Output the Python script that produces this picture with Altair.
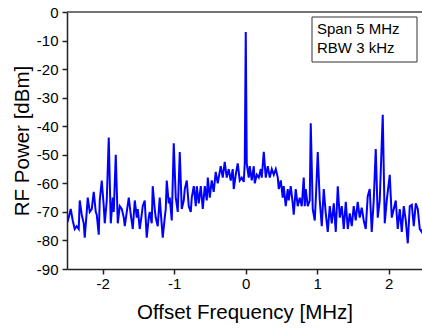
import altair as alt
import pandas as pd

# Offset frequency (MHz) and RF power (dBm)
freq_mhz = [
    -2.500, -2.476, -2.448, -2.420, -2.392, -2.364, -2.336, -2.322, -2.294, -2.266,
    -2.252, -2.224, -2.210, -2.182, -2.154, -2.126, -2.098, -2.084, -2.056, -2.042,
    -2.014, -1.986, -1.972, -1.944, -1.916, -1.888, -1.860, -1.846, -1.818, -1.790,
    -1.762, -1.734, -1.706, -1.692, -1.664, -1.636, -1.608, -1.580, -1.552, -1.524,
    -1.510, -1.483, -1.455, -1.441, -1.413, -1.385, -1.357, -1.343, -1.315, -1.301,
    -1.273, -1.259, -1.231, -1.203, -1.189, -1.161, -1.133, -1.119, -1.105, -1.077,
    -1.063, -1.035, -1.007, -0.979, -0.951, -0.923, -0.895, -0.867, -0.853, -0.825,
    -0.797, -0.769, -0.755, -0.727, -0.699, -0.685, -0.657, -0.629, -0.601, -0.573,
    -0.545, -0.531, -0.503, -0.476, -0.448, -0.420, -0.392, -0.364, -0.350, -0.322,
    -0.294, -0.266, -0.238, -0.210, -0.182, -0.168, -0.140, -0.112, -0.084, -0.056,
    -0.028, -0.014, 0.000, 0.014, 0.042, 0.056, 0.084, 0.112, 0.126, 0.154,
    0.182, 0.210, 0.224, 0.252, 0.280, 0.308, 0.336, 0.364, 0.392, 0.420,
    0.448, 0.462, 0.490, 0.517, 0.531, 0.559, 0.587, 0.601, 0.629, 0.657,
    0.671, 0.699, 0.727, 0.755, 0.783, 0.811, 0.825, 0.839, 0.867, 0.895,
    0.909, 0.937, 0.965, 0.979, 1.007, 1.035, 1.063, 1.091, 1.119, 1.147,
    1.175, 1.203, 1.231, 1.259, 1.287, 1.315, 1.343, 1.371, 1.399, 1.427,
    1.455, 1.483, 1.510, 1.538, 1.566, 1.594, 1.622, 1.650, 1.678, 1.706,
    1.734, 1.762, 1.790, 1.818, 1.846, 1.874, 1.916, 1.944, 1.972, 2.014,
    2.042, 2.070, 2.098, 2.126, 2.154, 2.182, 2.210, 2.238, 2.266, 2.294,
    2.322, 2.350, 2.378, 2.406, 2.434, 2.462, 2.490,
]
power_dbm = [
    -74, -72, -69, -73, -76, -75, -76, -66, -71, -74,
    -79, -70, -65, -70, -69, -63, -70, -71, -78, -66,
    -59, -68, -74, -66, -44, -74, -65, -70, -50, -74,
    -68, -69, -72, -75, -70, -65, -71, -76, -66, -72,
    -69, -76, -71, -68, -66, -79, -72, -70, -74, -61,
    -69, -72, -75, -65, -70, -79, -72, -69, -59, -67,
    -65, -73, -46, -65, -70, -49, -69, -66, -62, -59,
    -68, -70, -65, -61, -68, -61, -67, -61, -69, -61,
    -66, -58, -65, -59, -63, -56, -60, -56, -54, -58,
    -52.5, -58, -55, -59, -55, -62, -57, -53, -59, -58,
    -59.5, -53, -7, -53, -58, -54, -59, -54, -60, -57,
    -58, -55, -58, -49, -58, -54, -58, -55, -57, -55,
    -58, -62, -59, -65, -61, -68, -62, -66, -61, -67,
    -71, -62, -68, -65, -68, -58, -68, -62, -68, -66,
    -39, -69, -73, -66, -49, -66, -75, -62, -70.5, -77,
    -68, -74, -67, -77, -61, -72, -68, -76, -66.5, -76,
    -70.5, -75, -68, -73, -66.5, -72, -68.5, -73, -76, -64.5,
    -62, -77, -66, -48, -72, -66, -36, -74, -66, -57,
    -72, -69, -66, -76, -69, -77, -68, -73, -81, -68,
    -67.5, -75, -67, -69, -76, -77, -75,
]

x_ticks = [-2, -1, 0, 1, 2]
y_ticks = [-90, -80, -70, -60, -50, -40, -30, -20, -10, 0]
x_title = "Offset Frequency [MHz]"
y_title = "RF Power [dBm]"
legend_lines = ["Span 5 MHz", "RBW 3 kHz"]

FONT = "Liberation Sans"
W, H = 355, 257

df = pd.DataFrame({"f": freq_mhz, "p": power_dbm})
one = pd.DataFrame({"k": [0]})

x_scale = alt.Scale(domain=[-2.5, 2.465], nice=False, zero=False)
y_scale = alt.Scale(domain=[-90, 0], nice=False, zero=False)

common = dict(grid=False, tickSize=5, labelFontSize=15, titleFontSize=20.5,
              titleFontWeight="normal", labelFont=FONT, titleFont=FONT,
              domainColor="#222", tickColor="#222", domainWidth=1.5,
              tickWidth=1.5, labelColor="#000", titleColor="#000",
              labelExpr="toString(datum.value)")

line = alt.Chart(df).mark_line(color="#0000FF", strokeWidth=2, clip=True).encode(
    x=alt.X("f:Q", scale=x_scale,
            axis=alt.Axis(values=x_ticks, title=x_title, labelPadding=2,
                          titlePadding=11, **common)),
    y=alt.Y("p:Q", scale=y_scale,
            axis=alt.Axis(values=y_ticks, title=y_title, labelPadding=4,
                          titlePadding=4, **common)),
)

top_rule = alt.Chart(one).mark_rule(color="#444", strokeWidth=1.5).encode(
    x=alt.value(0), x2=alt.value(W), y=alt.value(0)
)

box = alt.Chart(one).mark_rect(fill="white", stroke="#333", strokeWidth=1).encode(
    x=alt.value(312 - 67), x2=alt.value(417 - 67), y=alt.value(17 - 12), y2=alt.value(62 - 12)
)

t1 = alt.Chart(one).mark_text(align="left", baseline="alphabetic", fontSize=15, font=FONT,
                              color="#000").encode(
    x=alt.value(317 - 67), y=alt.value(34 - 12), text=alt.value(legend_lines[0])
)
t2 = alt.Chart(one).mark_text(align="left", baseline="alphabetic", fontSize=15, font=FONT,
                              color="#000").encode(
    x=alt.value(317 - 67), y=alt.value(53 - 12), text=alt.value(legend_lines[1])
)

chart = alt.layer(line, top_rule, box, t1, t2).properties(
    width=W, height=H,
    autosize=alt.AutoSizeParams(type="none"),
    padding={"left": 67, "top": 12, "right": 0, "bottom": 60},
    background="white",
).configure_view(stroke=None)

chart.save("out.html", embed_options={"renderer": "svg", "actions": False})
